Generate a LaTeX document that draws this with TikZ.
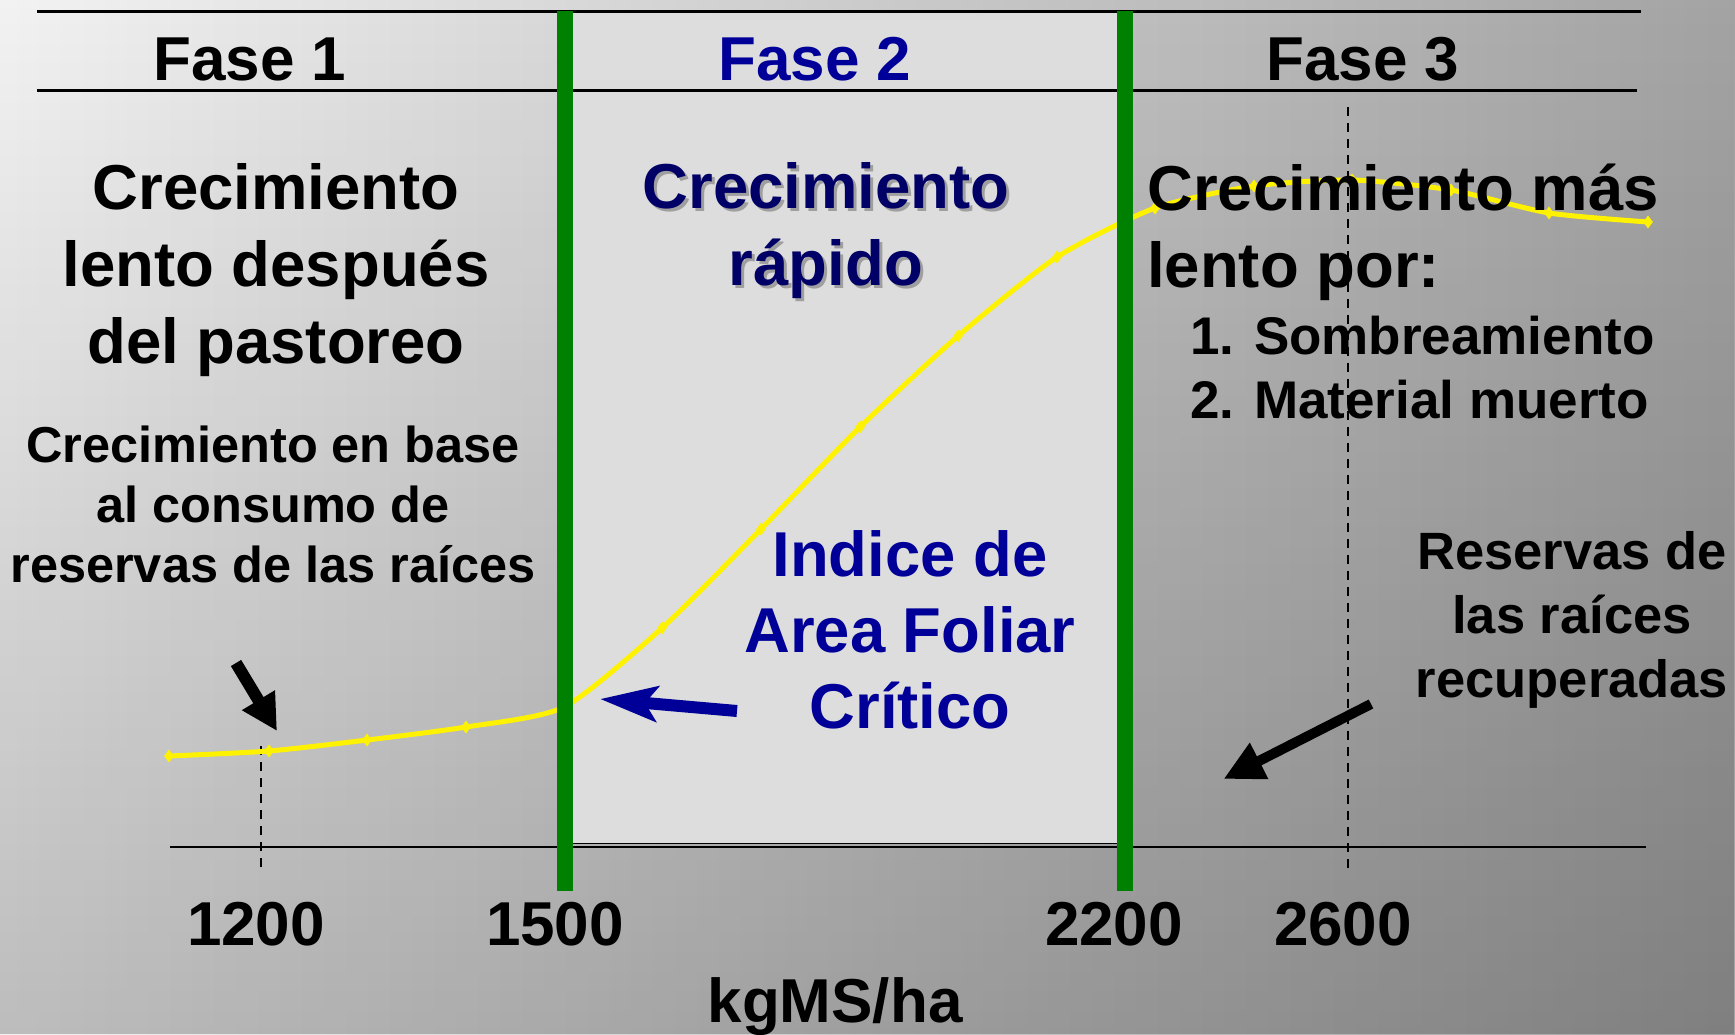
\documentclass[tikz,border=0pt]{standalone}
\usepackage{fontspec}
\setmainfont{Liberation Sans}
\usetikzlibrary{arrows.meta,fadings,plotmarks}
\definecolor{fgreen}{HTML}{008000}
\definecolor{fblue}{HTML}{000099}
\definecolor{fnavy}{HTML}{000066}
\definecolor{fpanel}{HTML}{DDDDDD}
\definecolor{bgL}{gray}{0.95}
\definecolor{bgR}{gray}{0.64}
\tikzfading[name=fadedown, top color=transparent!100, bottom color=transparent!0]
\begin{document}
\begin{tikzpicture}[x=1pt,y=-1pt,
  txt/.style={inner sep=0pt, anchor=base, align=center},
  hdr/.style={txt, font=\bfseries\fontsize{62}{74}\selectfont},
  bigtxt/.style={txt, font=\bfseries\fontsize{63.5}{77}\selectfont},
  midtxt/.style={txt, font=\bfseries\fontsize{53}{64}\selectfont},
  smalltxt/.style={txt, font=\bfseries\fontsize{50.5}{60}\selectfont},
  rtxt/.style={txt, font=\bfseries\fontsize{52.5}{64}\selectfont},
  rule/.style={black, line width=3},
  dashline/.style={black, line width=2, dash pattern=on 9pt off 7pt},
  phaseline/.style={fgreen, line width=16},
  curve/.style={yellow, line width=5}
]
\useasboundingbox (0,0) rectangle (1735,1034);
% background
\shade[left color=bgL, right color=bgR] (0,0) rectangle (1735,1034);
\fill[black, opacity=0.22, path fading=fadedown] (0,0) rectangle (1735,1034);
% phase 2 panel
\fill[fpanel] (565,11) rectangle (1125,844);
\draw[black, line width=1.5] (565,843.5) -- (1125,843.5);
% rules
\coordinate (r1a) at (37,11);   \coordinate (r1b) at (1641,11);
\coordinate (r2a) at (37,90.7); \coordinate (r2b) at (1637,90.7);
\coordinate (axa) at (170,847); \coordinate (axb) at (1646,847);
\draw[rule] (r1a) -- (r1b);
\draw[rule] (r2a) -- (r2b);
\draw[black, line width=2] (axa) -- (axb);
% dashed guides
\coordinate (d1a) at (261,746);  \coordinate (d1b) at (261,869);
\coordinate (d2a) at (1348,107); \coordinate (d2b) at (1348,874);
\draw[dashline] (d1a) -- (d1b);
\draw[dashline] (d2a) -- (d2b);
% growth curve
\draw[curve] plot[smooth, tension=0.4, mark=diamond*, mark size=6pt, mark options={fill=yellow, draw=yellow, line width=0.5}] coordinates {
 (169,756) (269,751) (367,740) (466,727) (564,707) (662,628) (761,529) (860,427)
 (958,336) (1057,257) (1155,208) (1254,186) (1352,180) (1451,190) (1549,213) (1648,222)};
% phase separators
\coordinate (g1a) at (565,11);  \coordinate (g1b) at (565,891);
\coordinate (g2a) at (1125,11); \coordinate (g2b) at (1125,891);
\draw[phaseline] (g1a) -- (g1b);
\draw[phaseline] (g2a) -- (g2b);
% arrows
\coordinate (ba1) at (737,711); \coordinate (ba2) at (600,699);
\draw[fblue, line width=12, -{Stealth[length=57pt, width=35pt, inset=12pt]}] (ba1) -- (ba2);
\coordinate (ka1) at (236,663); \coordinate (ka2) at (277,731);
\draw[black, line width=12, -{Triangle[length=36pt, width=36pt]}] (ka1) -- (ka2);
\coordinate (kb1) at (1371,704); \coordinate (kb2) at (1223.5,779);
\draw[black, line width=10, -{Triangle[length=40pt, width=38pt]}] (kb1) -- (kb2);
% headers
\node[hdr] (f1) at (250,80) {Fase 1};
\node[hdr, text=fblue] (f2) at (815,80) {Fase 2};
\node[hdr] (f3) at (1363,80) {Fase 3};
% texts (base anchor = baseline of the last line)
\node[bigtxt] (t1) at (276,363) {Crecimiento\\lento después\\del pastoreo};
\node[bigtxt, text=gray!75] (t2s) at (829,288) {Crecimiento\\rápido};
\node[bigtxt, text=fnavy] (t2) at (826,285) {Crecimiento\\rápido};
\node[bigtxt, align=left, anchor=base west] (t3) at (1147,287) {Crecimiento más\\lento por:};
\node[midtxt, align=left, anchor=base west] (t4) at (1190,418) {1. Sombreamiento\\2. Material muerto};
\node[smalltxt] (t5) at (273,582) {Crecimiento en base\\al consumo de\\reservas de las raíces};
\node[rtxt] (t6) at (1572,697) {Reservas de\\las raíces\\recuperadas};
\node[bigtxt, text=fblue, font=\bfseries\fontsize{63.4}{76}\selectfont] (t7) at (910,728) {Indice de\\Area Foliar\\Crítico};
% axis labels
\node[hdr] (n1) at (256,945) {1200};
\node[hdr] (n2) at (555,945) {1500};
\node[hdr] (n3) at (1114,945) {2200};
\node[hdr] (n4) at (1343,945) {2600};
\node[hdr] (xl) at (835,1022) {kgMS/ha};
\end{tikzpicture}
\end{document}
